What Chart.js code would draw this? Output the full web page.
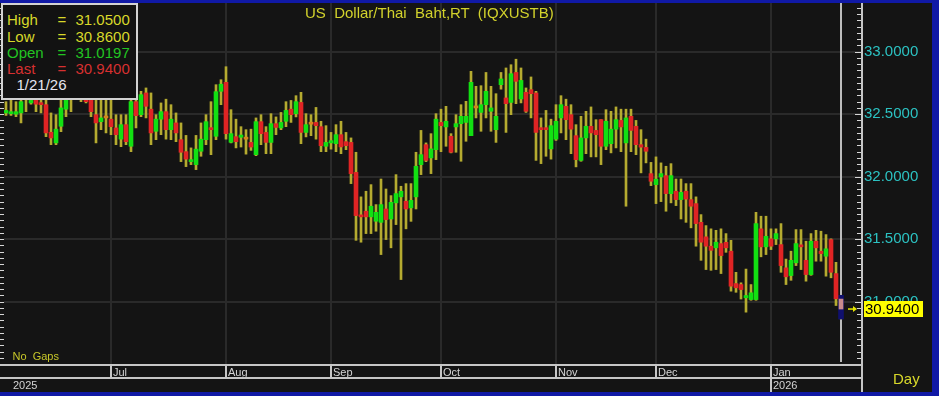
<!DOCTYPE html>
<html><head><meta charset="utf-8">
<script src="https://cdn.jsdelivr.net/npm/chart.js@4/dist/chart.umd.min.js"></script>
<style>
html,body{margin:0;padding:0;background:#1019a6;}
#wrap{position:relative;width:939px;height:396px;overflow:hidden;}
canvas{position:absolute;left:0;top:0;}
.t{position:absolute;white-space:pre;font-family:"Liberation Sans",Arial,sans-serif;font-size:15px;line-height:15px;}
#lbox{position:absolute;left:1px;top:3px;width:133px;height:93px;border:2px solid #d2d2d2;background:#121212;}
</style></head><body>
<div id="wrap">
<canvas id="c" width="939" height="396"></canvas>
<div class="t" style="left:305px;top:4.6px;color:#d2d22c">US  Dollar/Thai  Baht,RT  (IQXUSTB)</div>
<div id="lbox"></div>
<div id="ltext"></div>
<div class="t" style="left:12.5px;top:350.7px;font-size:11px;line-height:11px;color:#c8c82a">No  Gaps</div>
<div class="t" style="left:893px;top:370.8px;color:#d8d82a">Day</div>
</div>
<script>
const opens = [32.51,32.504,32.50,32.51,32.66,32.59,32.62,32.59,32.576,32.355,
 32.27,32.403,32.54,32.66,32.70,32.68,32.66,32.64,32.496,32.44,
 32.47,32.46,32.39,32.30,32.416,32.243,32.60,32.496,32.67,32.54,
 32.363,32.46,32.52,32.376,32.43,32.296,32.20,32.12,32.096,32.203,
 32.296,32.39,32.323,32.683,32.755,32.275,32.32,32.315,32.30,32.274,
 32.176,32.44,32.354,32.274,32.424,32.39,32.443,32.54,32.504,32.594,
 32.354,32.42,32.434,32.40,32.243,32.27,32.264,32.336,32.28,32.274,
 32.034,31.688,31.723,31.678,31.643,31.634,31.741,31.661,31.79,31.838,
 31.803,31.75,31.838,32.096,32.256,32.15,32.216,32.434,32.398,32.323,
 32.398,32.424,32.434,32.328,32.55,32.514,32.576,32.523,32.376,32.736,
 32.63,32.594,32.834,32.622,32.675,32.696,32.67,32.39,32.39,32.222,
 32.30,32.47,32.563,32.496,32.328,32.13,32.31,32.403,32.37,32.456,
 32.243,32.264,32.38,32.45,32.27,32.483,32.403,32.256,32.234,32.024,
 31.936,31.998,32.008,31.864,31.883,31.816,31.883,31.816,31.784,31.634,
 31.518,31.443,31.43,31.464,31.474,31.403,31.144,31.136,31.03,31.016,
 31.016,31.582,31.438,31.502,31.502,31.456,31.27,31.208,31.31,31.454,
 31.33,31.216,31.483,31.403,31.363,31.496,31.224,31.0197];
const highs = [32.60,32.62,32.60,32.66,32.75,32.70,32.68,32.66,32.62,32.51,
 32.496,32.62,32.68,32.76,32.78,32.75,32.72,32.70,32.62,32.62,
 32.62,32.62,32.496,32.496,32.496,32.63,32.736,32.683,32.71,32.67,
 32.496,32.59,32.62,32.576,32.51,32.43,32.33,32.23,32.33,32.43,
 32.496,32.60,32.736,32.776,32.88,32.536,32.46,32.40,32.376,32.38,
 32.47,32.496,32.40,32.504,32.478,32.514,32.60,32.61,32.648,32.675,
 32.504,32.496,32.554,32.443,32.408,32.354,32.416,32.443,32.354,32.31,
 32.195,31.838,31.883,31.936,31.776,31.981,31.901,31.848,32.016,31.923,
 31.944,31.944,32.195,32.37,32.27,32.344,32.504,32.54,32.563,32.344,
 32.496,32.576,32.603,32.843,32.723,32.728,32.834,32.723,32.664,32.834,
 32.87,32.896,32.94,32.87,32.71,32.798,32.683,32.47,32.53,32.46,
 32.576,32.648,32.62,32.576,32.416,32.483,32.523,32.558,32.456,32.456,
 32.536,32.523,32.558,32.54,32.54,32.54,32.45,32.376,32.30,32.114,
 32.158,32.11,32.083,32.104,31.981,31.981,31.944,31.944,31.838,31.696,
 31.608,31.582,31.57,31.582,31.544,31.49,31.234,31.15,31.26,31.136,
 31.714,31.683,31.683,31.582,31.582,31.624,31.34,31.403,31.576,31.576,
 31.483,31.544,31.57,31.563,31.536,31.502,31.314,31.05];
const lows = [32.49,32.49,32.48,32.43,32.52,32.58,32.52,32.51,32.32,32.256,
 32.256,32.36,32.48,32.52,32.62,32.60,32.59,32.48,32.27,32.376,
 32.35,32.336,32.256,32.24,32.256,32.20,32.39,32.48,32.47,32.256,
 32.296,32.336,32.30,32.296,32.28,32.12,32.08,32.096,32.056,32.163,
 32.256,32.176,32.296,32.576,32.30,32.27,32.23,32.237,32.18,32.21,
 32.168,32.256,32.184,32.184,32.336,32.376,32.40,32.434,32.478,32.264,
 32.318,32.328,32.30,32.20,32.20,32.22,32.20,32.184,32.216,31.944,
 31.49,31.475,31.544,31.544,31.563,31.376,31.496,31.43,31.616,31.176,
 31.582,31.642,31.741,32.016,32.12,32.024,32.136,32.20,32.243,32.19,
 32.195,32.123,32.283,32.328,32.47,32.363,32.47,32.363,32.274,32.70,
 32.354,32.496,32.584,32.59,32.514,32.47,32.13,32.104,32.163,32.14,
 32.29,32.35,32.296,32.184,32.078,32.123,32.184,32.158,32.158,32.096,
 32.216,32.19,32.23,32.20,31.763,32.20,32.176,32.03,32.11,31.928,
 31.784,31.80,31.723,31.79,31.768,31.661,31.634,31.59,31.443,31.33,
 31.256,31.25,31.256,31.224,31.394,31.083,31.074,31.02,30.915,31.01,
 31.01,31.358,31.376,31.416,31.456,31.234,31.136,31.17,31.288,31.256,
 31.163,31.21,31.323,31.323,31.203,31.19,30.968,30.86];
const closes = [32.53,32.52,32.52,32.60,32.70,32.61,32.58,32.576,32.35,32.31,
 32.38,32.55,32.62,32.70,32.68,32.64,32.60,32.52,32.43,32.47,
 32.47,32.40,32.336,32.416,32.28,32.60,32.488,32.656,32.563,32.35,
 32.46,32.52,32.376,32.46,32.35,32.195,32.14,32.136,32.22,32.30,
 32.44,32.376,32.68,32.74,32.344,32.344,32.28,32.333,32.30,32.237,
 32.44,32.344,32.274,32.424,32.394,32.434,32.53,32.496,32.60,32.354,
 32.416,32.42,32.408,32.248,32.274,32.288,32.336,32.238,32.248,32.024,
 31.688,31.678,31.678,31.763,31.714,31.776,31.656,31.794,31.864,31.883,
 31.741,31.81,32.083,32.176,32.13,32.222,32.46,32.408,32.443,32.195,
 32.424,32.483,32.483,32.755,32.55,32.576,32.683,32.55,32.483,32.782,
 32.584,32.824,32.763,32.77,32.523,32.664,32.354,32.376,32.376,32.408,
 32.443,32.576,32.456,32.38,32.136,32.31,32.403,32.35,32.336,32.243,
 32.443,32.38,32.456,32.398,32.47,32.37,32.256,32.236,32.203,31.963,
 31.98,32.024,31.864,32.008,31.816,31.874,31.82,31.763,31.624,31.475,
 31.443,31.41,31.475,31.368,31.43,31.123,31.11,31.096,31.048,31.07,
 31.624,31.438,31.522,31.443,31.544,31.288,31.198,31.33,31.464,31.438,
 31.216,31.483,31.43,31.384,31.422,31.234,31.022,30.94];
const monthStartIdx = [21,44,65,87,110,130,153];
const monthLabels = ['Jul','Aug','Sep','Oct','Nov','Dec','Jan'];
const yearStartIdx = [0,153];
const yearLabels = ['2025','2026'];
const yTickValues = [31.0,31.5,32.0,32.5,33.0];
const lastDate = '1/21/26';

const N = closes.length, last = N - 1;
const UP = '#12e012', DOWN = '#e02424', DOJI = '#d8821e', WICK = '#b5ab30', SEL = '#c98b8b';
const FONT = '"Liberation Sans", Arial, sans-serif';

// legend box text
(function(){
  const rows = [['High', highs[last], '#d8d82a'], ['Low', lows[last], '#d8d82a'],
                ['Open', opens[last], '#22c422'], ['Last', closes[last], '#d63030']];
  const baseTop = 12.3, step = 16.2;
  let html = '';
  rows.forEach((r, k) => {
    const top = baseTop + k * step;
    html += `<div class="t" style="left:7px;top:${top}px;color:${r[2]}">${r[0]}</div>`;
    html += `<div class="t" style="left:57.5px;top:${top}px;color:${r[2]}">=</div>`;
    html += `<div class="t" style="left:75.5px;top:${top}px;color:${r[2]}">${r[1].toFixed(4)}</div>`;
  });
  html += `<div class="t" style="left:16.5px;top:${baseTop + 4*step}px;color:#e6e6f0">${lastDate}</div>`;
  document.getElementById('ltext').innerHTML = html;
})();

const idx = closes.map((_, i) => i);
const wickData = idx.map(i => ({x: i, y: [lows[i], highs[i]]}));
const bodyData = idx.map(i => ({x: i, y: [opens[i], closes[i]]}));
const selData = [{x: last, y: [lows[last], highs[last]]}];

const decor = {
  id: 'decor',
  beforeDraw(chart) {
    const c = chart.ctx; c.save();
    c.fillStyle = '#1019a6'; c.fillRect(0, 0, 939, 396);
    c.fillStyle = '#141414'; c.fillRect(0, 3, 932, 389);
    c.restore();
  },
  beforeDatasetsDraw(chart) {
    const c = chart.ctx, a = chart.chartArea, xs = chart.scales.x;
    const x = Math.round(xs.getPixelForValue(last));
    c.save(); c.strokeStyle = '#bcbcbc'; c.lineWidth = 2;
    c.beginPath(); c.moveTo(x, a.top); c.lineTo(x, a.bottom - 2); c.stroke(); c.restore();
  },
  afterDraw(chart) {
    const c = chart.ctx, a = chart.chartArea, xs = chart.scales.x, ys = chart.scales.y;
    c.save();
    // minor tick marks on both edges
    c.strokeStyle = '#d6d6d6'; c.lineWidth = 1;
    c.beginPath();
    for (let k = 0; ; k++) {
      const v = ys.min + k * 0.05; if (v > ys.max + 1e-9) break;
      const y = Math.round(ys.getPixelForValue(v)) + 0.5;
      const major = Math.abs(v * 2 - Math.round(v * 2)) < 1e-6;
      c.moveTo(a.right - (major ? 6 : 4), y); c.lineTo(a.right, y);
      c.moveTo(0, y); c.lineTo(4, y);
    }
    c.stroke();
    // x-axis rows
    const yb = a.bottom, ym = yb + 14, ye = yb + 28;
    c.strokeStyle = '#c6c6c6'; c.lineWidth = 2;
    c.beginPath();
    c.moveTo(0, yb + 1); c.lineTo(a.right, yb + 1);
    c.moveTo(0, ym); c.lineTo(a.right, ym);
    c.moveTo(a.right + 1, a.top); c.lineTo(a.right + 1, ye);
    monthStartIdx.forEach((m, k) => {
      const x = Math.round(xs.getPixelForValue(m));
      c.moveTo(x, yb); c.lineTo(x, yearStartIdx.includes(m) ? ye : ym);
    });
    c.stroke();
    c.fillStyle = '#d4d4d4'; c.font = '11px ' + FONT; c.textBaseline = 'alphabetic'; c.textAlign = 'left';
    c.save(); c.beginPath(); c.rect(0, yb + 2, a.right, ym - yb - 3); c.clip();
    monthStartIdx.forEach((m, k) => {
      const x = Math.round(xs.getPixelForValue(m));
      c.fillText(monthLabels[k], x + 2, yb + 12);
    });
    c.restore();
    yearStartIdx.forEach((m, k) => {
      const x = Math.max(Math.round(xs.getPixelForValue(m)) + 2, 13);
      c.fillText(yearLabels[k], x, ym + 11);
    });
    // price tag
    const yv = ys.getPixelForValue(closes[last]);
    c.fillStyle = '#ffff00'; c.fillRect(864, Math.round(yv) - 8, 59, 16);
    c.fillStyle = '#000'; c.font = '15px ' + FONT; c.textBaseline = 'middle';
    c.fillText(closes[last].toFixed(4), 865, yv + 0.5);
    c.strokeStyle = '#e6e600'; c.fillStyle = '#e6e600'; c.lineWidth = 1.5;
    c.beginPath(); c.moveTo(848, yv); c.lineTo(854, yv); c.stroke();
    c.beginPath(); c.moveTo(853, yv - 3); c.lineTo(857, yv); c.lineTo(853, yv + 3); c.closePath(); c.fill();
    c.restore();
  }
};

new Chart(document.getElementById('c'), {
  type: 'bar',
  data: {datasets: [
    {label: 'body', data: bodyData, order: 0, barThickness: 4, grouped: false, minBarLength: 2, borderWidth: 0,
     backgroundColor: (ctx) => {
       const i = ctx.dataIndex;
       if (i === last) return SEL;
       if (closes[i] > opens[i]) return UP;
       if (closes[i] < opens[i]) return DOWN;
       return DOJI;
     }},
    {label: 'sel', data: selData, order: 1, barThickness: 5, grouped: false, borderWidth: 0, backgroundColor: '#10106e'},
    {label: 'wick', data: wickData, order: 2, barThickness: 2, grouped: false, borderWidth: 0, backgroundColor: WICK}
  ]},
  options: {
    responsive: false, animation: false, devicePixelRatio: 1,
    layout: {padding: {left: 4, right: 7, top: 3, bottom: 4}},
    plugins: {legend: {display: false}, tooltip: {enabled: false}, title: {display: false}},
    scales: {
      x: {type: 'linear', min: -0.4, max: 171, offset: false,
          grid: {offset: false, color: '#2a2a2a', lineWidth: 2, drawTicks: false},
          border: {display: false}, ticks: {display: false},
          afterBuildTicks: (s) => { s.ticks = monthStartIdx.map(v => ({value: v})); },
          afterFit: (s) => { s.height = 28; s.paddingLeft = 0; s.paddingRight = 0; }},
      y: {type: 'linear', position: 'right', min: 30.5, max: 33.39,
          grid: {color: '#2a2a2a', lineWidth: 2, drawTicks: false},
          border: {display: false},
          ticks: {color: '#2cc2c2', padding: 3, font: {family: FONT, size: 15},
                  callback: (v) => yTickValues.some(t => Math.abs(t - v) < 1e-6) ? Number(v).toFixed(4) : ''},
          afterBuildTicks: (s) => { s.ticks = yTickValues.map(v => ({value: v})); },
          afterFit: (s) => { s.width = 71; s.paddingTop = 0; s.paddingBottom = 0; }}
    }
  },
  plugins: [decor]
});
</script>
</body></html>
